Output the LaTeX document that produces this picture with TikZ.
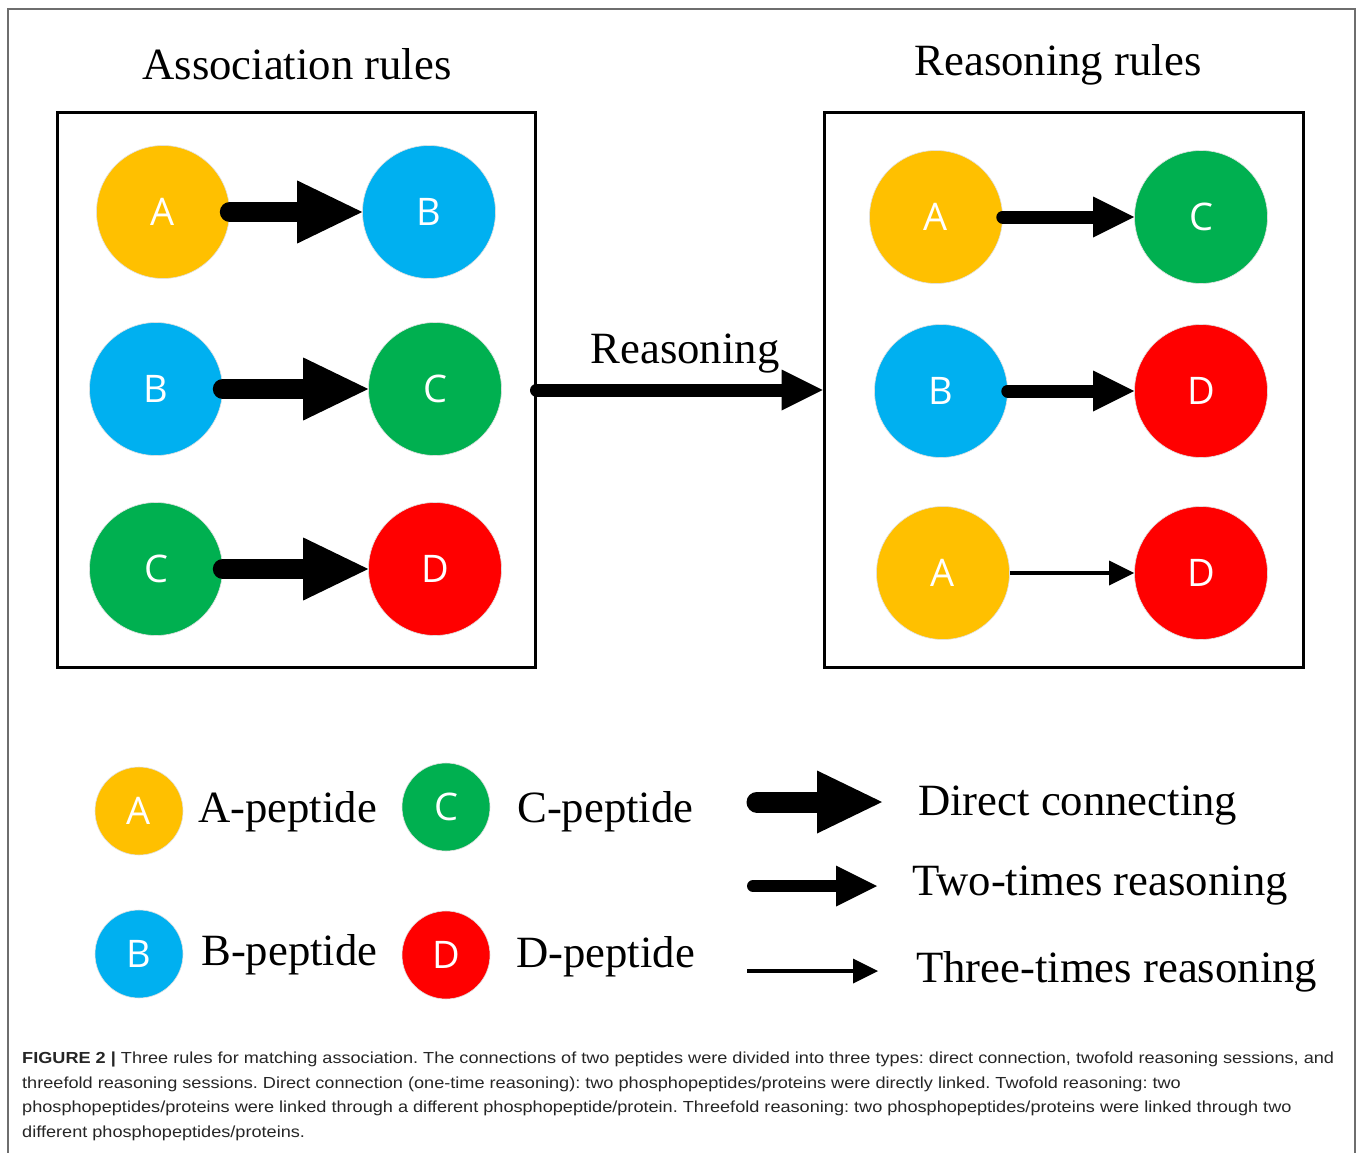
\documentclass[tikz,border=0pt]{standalone}
\usepackage{fontspec}
\setmainfont{Liberation Serif}
\newfontfamily\circfont{Open Sans}
\newfontfamily\capfont[FakeStretch=1.133]{Liberation Sans}
\usetikzlibrary{arrows.meta}
\definecolor{cA}{HTML}{FFC000}
\definecolor{cB}{HTML}{00B0F0}
\definecolor{cC}{HTML}{00B050}
\definecolor{cD}{HTML}{FF0000}
\definecolor{frame}{HTML}{6E6E6E}
\frenchspacing
\begin{document}
\begin{tikzpicture}[x=1pt,y=-1pt,
  pep/.style={circle, minimum size=133pt, inner sep=0pt, draw=black!12, line width=0.6pt,
    text=white, font=\circfont\fontsize{38}{40}\selectfont},
  legpep/.style={pep, minimum size=88pt},
  bigarr/.style={line width=20pt, line cap=round, -{Triangle[length=65pt,width=63pt,line width=0pt]}},
  midarr/.style={line width=13pt, line cap=round, -{Triangle[length=41pt,width=41pt,line width=0pt]}},
  thinarr/.style={line width=3.5pt, -{Triangle[length=25pt,width=25pt,line width=0pt]}},
  rulebox/.style={draw, line width=3pt, inner sep=0pt},
  serif/.style={font=\fontsize{44.7}{48}\selectfont, inner sep=0pt},
  captext/.style={font=\capfont\fontsize{16}{24.5}\selectfont, inner sep=0pt, align=left, text=black!85}]
\useasboundingbox (0,0) rectangle (1358,1153);
\fill[white] (0,0) rectangle (1358,1153);
\draw[frame, line width=1.5pt] (8,1160) -- (8,9) -- (1355,9) -- (1355,1160);

% titles
\node[serif, anchor=base] (t1) at (297,80) {Association rules};
\node[serif, anchor=base] (t2) at (1058,76) {Reasoning rules};

% boxes
\node[rulebox, minimum width=477.5pt, minimum height=554pt] (L) at (296.25,390) {};
\node[rulebox, minimum width=479pt, minimum height=554pt] (R) at (1063.5,390) {};

% left box
\node[pep, fill=cA] (a1) at (163,212) {A};
\node[pep, fill=cB] (b1) at (429,212) {B};
\node[pep, fill=cB] (b2) at (156,389) {B};
\node[pep, fill=cC] (c2) at (435,389) {C};
\node[pep, fill=cC] (c3) at (156,569) {C};
\node[pep, fill=cD] (d3) at (435,569) {D};
\draw[bigarr] (a1.east) -- (b1.west);
\draw[bigarr] (b2.east) -- (c2.west);
\draw[bigarr] (c3.east) -- (d3.west);

% right box
\node[pep, fill=cA] (a4) at (936,217) {A};
\node[pep, fill=cC] (c4) at (1201,217) {C};
\node[pep, fill=cB] (b5) at (941,391) {B};
\node[pep, fill=cD] (d5) at (1201,391) {D};
\node[pep, fill=cA] (a6) at (943,573) {A};
\node[pep, fill=cD] (d6) at (1201,573) {D};
\draw[midarr] (a4.east) -- (c4.west);
\draw[midarr] (b5.east) -- (d5.west);
\draw[thinarr] (a6.east) -- (d6.west);

% reasoning arrow
\node[serif, anchor=base] (t3) at (685,363) {Reasoning};
\draw[midarr] (L.east) -- (R.west);

% legend circles
\node[legpep, fill=cA] (la) at (139,811) {A};
\node[legpep, fill=cC] (lc) at (446,807) {C};
\node[legpep, fill=cB] (lb) at (139,954) {B};
\node[legpep, fill=cD] (ld) at (446,955) {D};
\node[serif, anchor=base west] (ta) at (198,822) {A-peptide};
\node[serif, anchor=base west] (tc) at (517,822) {C-peptide};
\node[serif, anchor=base west] (tb) at (201,965) {B-peptide};
\node[serif, anchor=base west] (td) at (516,967) {D-peptide};

% legend arrows
\coordinate (s1) at (757,802);
\coordinate (e1) at (882,802);
\coordinate (s2) at (753,886);
\coordinate (e2) at (877,886);
\coordinate (s3) at (747,971);
\coordinate (e3) at (878,971);
\draw[bigarr, line width=21pt] (s1) -- (e1);
\draw[midarr, line width=12pt] (s2) -- (e2);
\draw[thinarr] (s3) -- (e3);
\node[serif, anchor=base west] (k1) at (918,815) {Direct connecting};
\node[serif, anchor=base west] (k2) at (912,895) {Two-times reasoning};
\node[serif, anchor=base west] (k3) at (916,982) {Three-times reasoning};

% caption
\node[captext, anchor=north west] (cap) at (22,1052) {\textbf{FIGURE 2 |} Three rules for matching association. The connections of two peptides were divided into three types: direct connection, twofold reasoning sessions, and\\
threefold reasoning sessions. Direct connection (one-time reasoning): two phosphopeptides/proteins were directly linked. Twofold reasoning: two\\
phosphopeptides/proteins were linked through a different phosphopeptide/protein. Threefold reasoning: two phosphopeptides/proteins were linked through two\\
different phosphopeptides/proteins.};
\end{tikzpicture}
\end{document}
